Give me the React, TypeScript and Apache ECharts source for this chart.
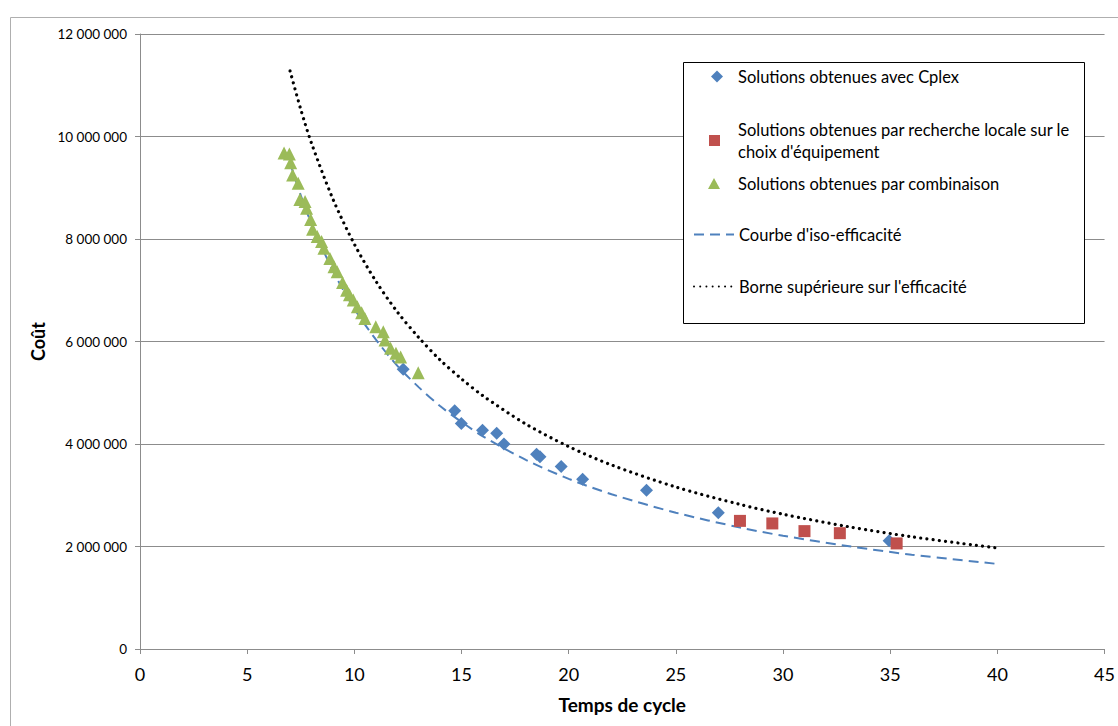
import React, { useEffect, useRef } from "react";
import * as echarts from "echarts";

const NAME_CPLEX = "Solutions obtenues avec Cplex";
const NAME_LOCAL = "Solutions obtenues par recherche locale sur le choix d'équipement";
const NAME_COMBO = "Solutions obtenues par combinaison";
const NAME_ISO = "Courbe d'iso-efficacité";
const NAME_BORNE = "Borne supérieure sur l'efficacité";

const xTicks = [0, 5, 10, 15, 20, 25, 30, 35, 40, 45];
const yTicks = [0, 2000000, 4000000, 6000000, 8000000, 10000000, 12000000];

const cplexX = [12.28, 14.68, 14.99, 15.98, 16.64, 16.98, 18.5, 18.66, 19.65, 20.65, 23.63, 26.98, 34.95];
const cplexY = [5460000, 4650000, 4400000, 4270000, 4210000, 4000000, 3800000, 3750000, 3560000, 3310000, 3100000, 2660000, 2110000];

const localX = [27.99, 29.5, 31.0, 32.65, 35.3];
const localY = [2500000, 2450000, 2300000, 2260000, 2060000];

const comboX = [6.72, 6.97, 7.03, 7.12, 7.38, 7.46, 7.7, 7.77, 7.96, 8.05, 8.27, 8.47, 8.58, 8.86, 9.05, 9.2, 9.45, 9.64, 9.77, 9.95, 10.14, 10.34, 10.49, 11.0, 11.35, 11.43, 11.69, 11.94, 12.16, 12.98];
const comboY = [9680000, 9660000, 9490000, 9250000, 9090000, 8770000, 8730000, 8600000, 8380000, 8190000, 8050000, 7950000, 7820000, 7620000, 7460000, 7360000, 7150000, 7000000, 6910000, 6810000, 6680000, 6560000, 6450000, 6290000, 6190000, 6030000, 5870000, 5770000, 5700000, 5390000];

const isoX = [7, 7.5, 8, 9, 10, 11, 12, 13, 14, 15, 16, 18, 20, 22, 25, 28, 30, 33, 36, 40];
const isoY = [9490000, 8850000, 8300000, 7380000, 6640000, 6040000, 5530000, 5110000, 4740000, 4430000, 4150000, 3690000, 3320000, 3020000, 2660000, 2370000, 2210000, 2010000, 1840000, 1660000];

const borneX = [7, 7.5, 8, 9, 10, 11, 12, 13, 14, 15, 16, 18, 20, 22, 25, 28, 30, 33, 36, 40];
const borneY = [11280000, 10530000, 9870000, 8780000, 7900000, 7180000, 6580000, 6080000, 5640000, 5270000, 4940000, 4390000, 3950000, 3590000, 3160000, 2820000, 2630000, 2390000, 2190000, 1970000];

const zip = (xs: number[], ys: number[]) => xs.map((x, i) => [x, ys[i]]);
const fmt = (v: number) => String(v).replace(/\B(?=(\d{3})+(?!\d))/g, " ");

const FONT = "Lato";
const BLUE = "#4F81BD";
const RED = "#C0504D";
const GREEN = "#9BBB59";
const LEG_FS = 16.5;

export default function App() {
  const ref = useRef<HTMLDivElement>(null);
  useEffect(() => {
    if (!ref.current) return;
    const chart = echarts.init(ref.current, null, { renderer: "svg" });
    const legendBase = {
      orient: "vertical",
      padding: 0,
      itemGap: 0,
      selectedMode: false,
    };
    const symText = (padLeft: number) => ({
      fontFamily: FONT,
      fontSize: LEG_FS,
      color: "#000",
      padding: [0, 0, 0, padLeft],
    });
    const lineLegend = {
      ...legendBase,
      itemWidth: 40,
      itemHeight: 11,
      itemStyle: { opacity: 0, color: "rgba(0,0,0,0)", borderWidth: 0 },
      textStyle: { fontFamily: FONT, fontSize: LEG_FS, color: "#000" },
    };
    chart.setOption({
      animation: false,
      textStyle: { fontFamily: FONT },
      grid: { left: 140, top: 34, right: 13, bottom: 77, containLabel: false },
      graphic: [
        {
          type: "rect",
          z: 0,
          silent: true,
          shape: { x: 10.5, y: 17.5, width: 1200, height: 800 },
          style: { fill: "none", stroke: "#AFAFAF", lineWidth: 1 },
        },
        {
          type: "rect",
          z: 3,
          silent: true,
          shape: { x: 683.5, y: 62.5, width: 401, height: 261 },
          style: { fill: "#fff", stroke: "#000", lineWidth: 1 },
        },
      ],
      legend: [
        {
          ...legendBase,
          left: 711,
          top: 68,
          itemWidth: 12,
          itemHeight: 12,
          data: [NAME_CPLEX],
          textStyle: symText(10),
        },
        {
          ...legendBase,
          left: 709,
          top: 121,
          itemWidth: 11,
          itemHeight: 11,
          data: [NAME_LOCAL],
          formatter: () => "{a|Solutions obtenues par recherche locale sur le}\n{a|choix d'équipement}",
          textStyle: {
            fontFamily: FONT,
            fontSize: LEG_FS,
            color: "#000",
            padding: [0, 0, 0, 13],
            rich: { a: { fontFamily: FONT, fontSize: LEG_FS, color: "#000", lineHeight: 22 } },
          },
        },
        {
          ...legendBase,
          left: 708,
          top: 175,
          itemWidth: 12,
          itemHeight: 11,
          data: [NAME_COMBO],
          textStyle: symText(13),
        },
        { ...lineLegend, left: 693, top: 226, data: [NAME_ISO] },
        { ...lineLegend, left: 693, top: 278, data: [NAME_BORNE] },
      ],
      xAxis: {
        type: "value",
        min: 0,
        max: 45,
        interval: 5,
        name: "Temps de cycle",
        nameLocation: "middle",
        nameGap: 46,
        nameTextStyle: { fontFamily: FONT, fontSize: 19, fontWeight: "bold", color: "#000" },
        axisLine: { show: true, lineStyle: { color: "#8C8C8C", width: 1 } },
        axisTick: { show: true, length: 5, lineStyle: { color: "#8C8C8C" }, customValues: xTicks },
        axisLabel: { fontFamily: FONT, fontSize: 18, color: "#000", margin: 16, customValues: xTicks },
        splitLine: { show: false },
      },
      yAxis: {
        type: "value",
        min: 0,
        max: 12000000,
        interval: 2000000,
        name: "Coût",
        nameLocation: "middle",
        nameGap: 89,
        nameRotate: 90,
        nameTextStyle: { fontFamily: FONT, fontSize: 18, fontWeight: "bold", color: "#000" },
        axisLine: { show: true, lineStyle: { color: "#8C8C8C", width: 1 } },
        axisTick: { show: true, length: 5, lineStyle: { color: "#8C8C8C" }, customValues: yTicks },
        axisLabel: { fontFamily: FONT, fontSize: 13.5, color: "#000", margin: 13, formatter: (v: number) => fmt(v), customValues: yTicks },
        splitLine: { show: true, lineStyle: { color: "#8C8C8C", width: 1 } },
      },
      series: [
        {
          name: NAME_CPLEX,
          type: "scatter",
          z: 3,
          symbol: "diamond",
          symbolSize: 13,
          itemStyle: { color: BLUE, opacity: 1 },
          data: zip(cplexX, cplexY),
        },
        {
          name: NAME_LOCAL,
          type: "scatter",
          z: 3,
          symbol: "rect",
          symbolSize: 12,
          itemStyle: { color: RED, opacity: 1 },
          data: zip(localX, localY),
        },
        {
          name: NAME_COMBO,
          type: "scatter",
          z: 3,
          symbol: "triangle",
          symbolSize: 13,
          itemStyle: { color: GREEN, opacity: 1 },
          data: zip(comboX, comboY),
        },
        {
          name: NAME_ISO,
          type: "line",
          z: 2,
          symbol: "none",
          smooth: 0.3,
          lineStyle: { color: BLUE, width: 2, type: [10, 6] },
          itemStyle: { color: BLUE },
          data: zip(isoX, isoY),
        },
        {
          name: NAME_BORNE,
          type: "line",
          z: 2,
          symbol: "none",
          smooth: 0.3,
          lineStyle: { color: "#000", width: 3.2, type: [0.01, 6.2], cap: "round" },
          itemStyle: { color: "#000" },
          data: zip(borneX, borneY),
        },
      ],
    });
    return () => chart.dispose();
  }, []);
  return <div ref={ref} style={{ position: "fixed", left: 0, top: 0, width: 1118, height: 726, background: "#fff" }} />;
}
